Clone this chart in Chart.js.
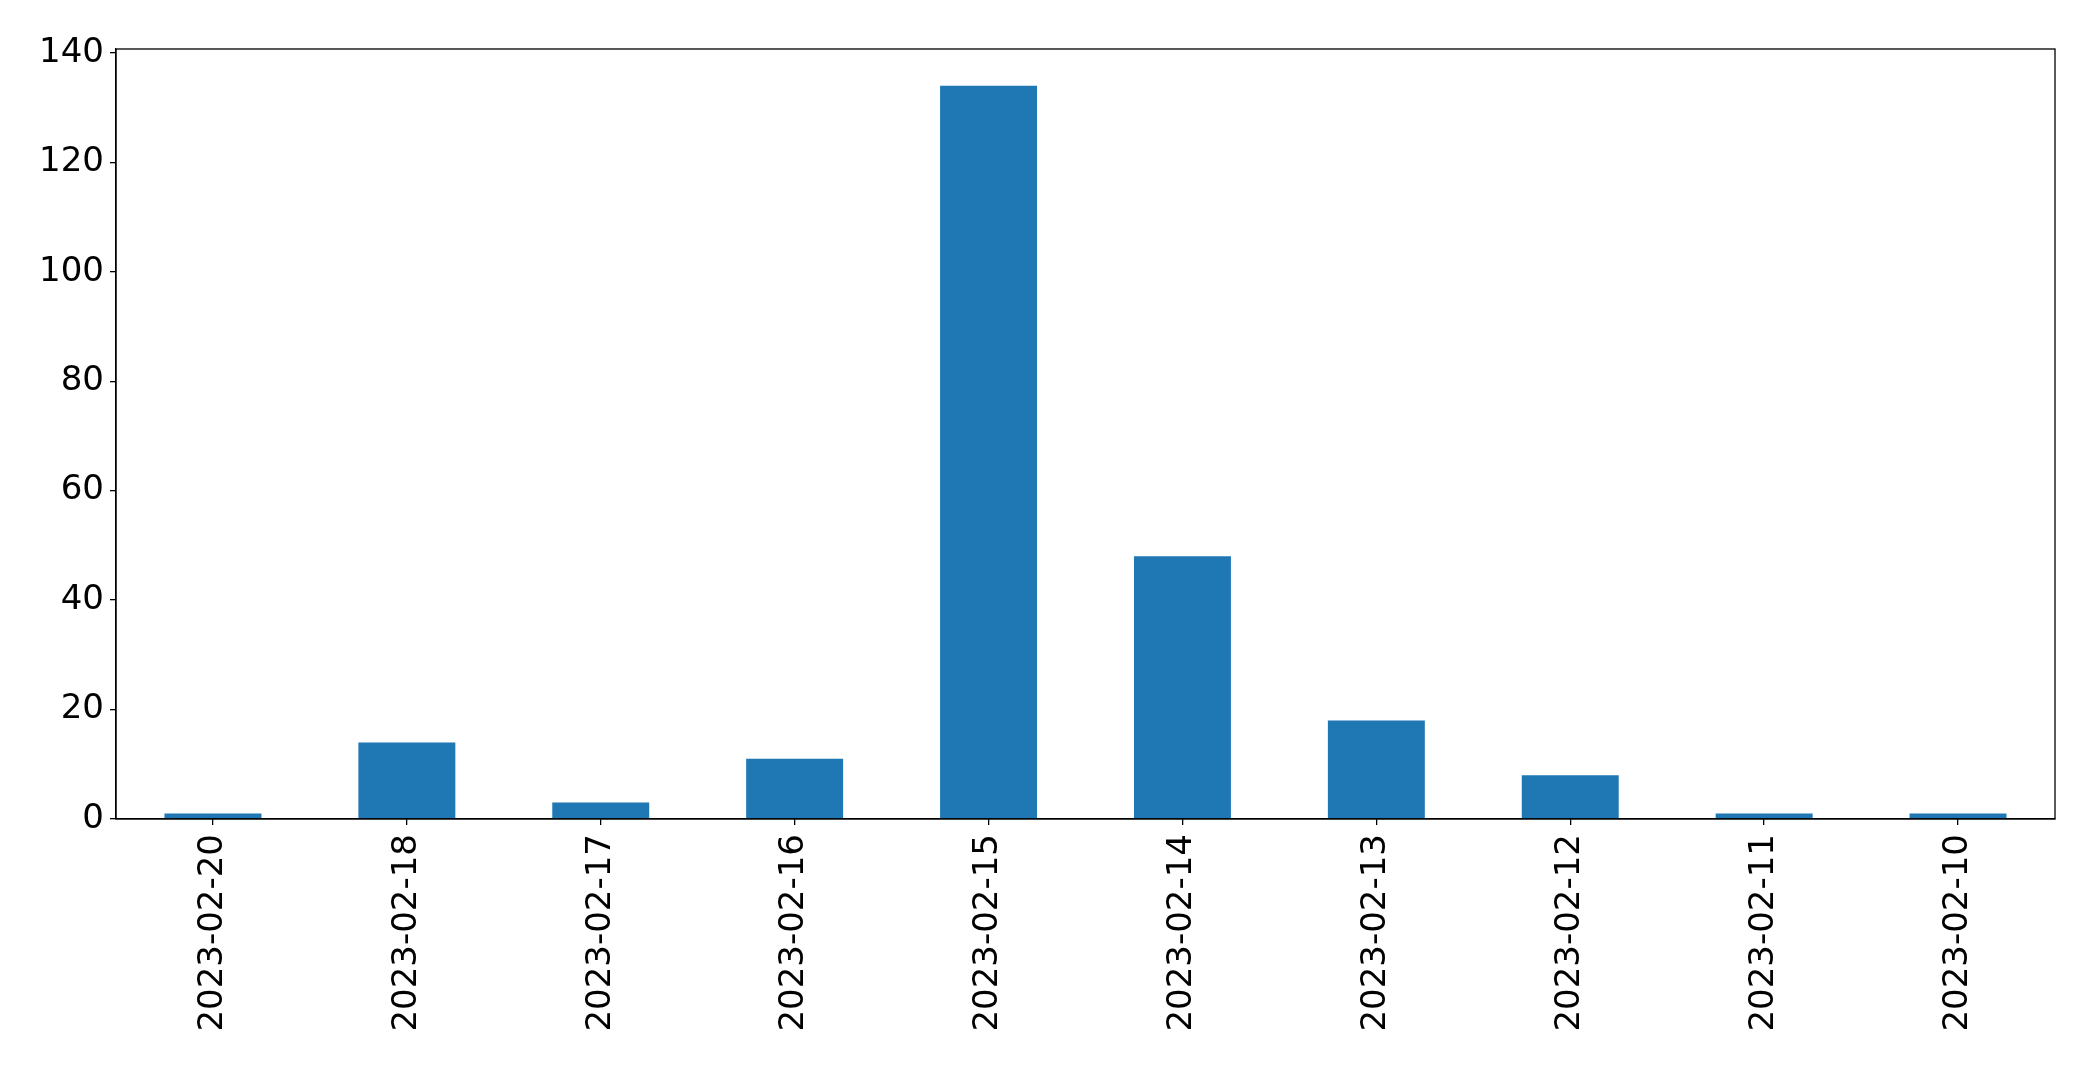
<!DOCTYPE html>
<html>
<head>
<meta charset="utf-8">
<script src="https://cdn.jsdelivr.net/npm/chart.js@4"></script>
<style>
  html, body { margin: 0; padding: 0; background: #fff; }
  #box { width: 2093px; height: 1071px; }
</style>
</head>
<body>
<div id="box"><canvas id="myChart"></canvas></div>
<script>
// dates as they appear on the x axis (newest first)
const dates  = ['2023-02-20', '2023-02-18', '2023-02-17', '2023-02-16', '2023-02-15',
                '2023-02-14', '2023-02-13', '2023-02-12', '2023-02-11', '2023-02-10'];
// count per day
const counts = [1, 14, 3, 11, 134, 48, 18, 8, 1, 1];
// y axis ticks 0..140
const yTicks = [0, 20, 40, 60, 80, 100, 120, 140];

// box around the plot area like matplotlib
const frame = {
  id: 'frame',
  afterDatasetsDraw(chart) {
    const a = chart.chartArea;
    const ctx = chart.ctx;
    ctx.save();
    ctx.strokeStyle = '#000';
    ctx.lineWidth = 1.3;
    ctx.strokeRect(a.left, a.top, a.right - a.left, a.bottom - a.top);
    ctx.restore();
  }
};

const ctx = document.getElementById('myChart').getContext('2d');
const myChart = new Chart(ctx, {
  type: 'bar',
  data: {
    labels: dates,
    datasets: [{
      data: counts,
      backgroundColor: '#1f77b4',
      borderWidth: 0,
      barPercentage: 0.5,
      categoryPercentage: 1.0
    }]
  },
  options: {
    responsive: true,
    maintainAspectRatio: false,
    animation: false,
    layout: { padding: { left: 0, right: 38, top: 49, bottom: 0 } },
    plugins: { legend: { display: false }, tooltip: { enabled: false } },
    scales: {
      x: {
        offset: true,
        grid: { display: true, offset: false, drawOnChartArea: false, drawTicks: true,
                tickLength: 6, color: '#000', lineWidth: 1.3 },
        border: { display: true, color: '#000', width: 1.3 },
        ticks: {
          color: '#000', maxRotation: 90, minRotation: 90, autoSkip: false, padding: 9,
          font: { family: 'DejaVu Sans', size: 34 }
        },
        afterFit(scale) { scale.height = 252; }
      },
      y: {
        min: 0,
        max: 140.7,
        grid: { display: true, drawOnChartArea: false, drawTicks: true,
                tickLength: 6, color: '#000', lineWidth: 1.3 },
        border: { display: true, color: '#000', width: 1.3 },
        afterBuildTicks(scale) { scale.ticks = yTicks.map(v => ({ value: v })); },
        ticks: {
          color: '#000', padding: 6, includeBounds: false,
          font: { family: 'DejaVu Sans', size: 34 }
        },
        afterFit(scale) { scale.width = 116; }
      }
    }
  },
  plugins: [frame]
});
</script>
</body>
</html>
